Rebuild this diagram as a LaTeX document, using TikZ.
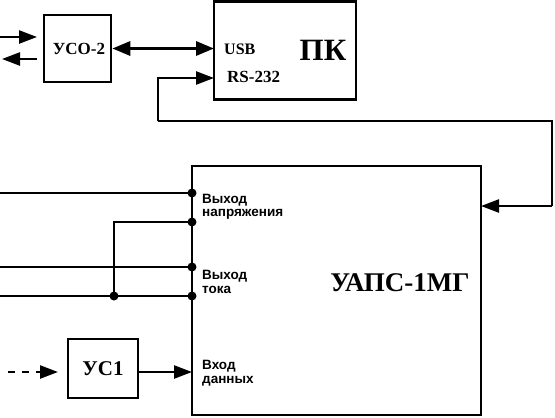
\documentclass[tikz,border=0pt]{standalone}
\usepackage{fontspec}
\setmainfont{Liberation Serif}
\newfontfamily\lsans{Liberation Sans}
\usetikzlibrary{arrows.meta}
\begin{document}
\begin{tikzpicture}[x=1pt,y=-1pt,
  box/.style={draw, line width=2.6pt, inner sep=0pt},
  wire/.style={line width=2.4pt},
  thinwire/.style={line width=1.6pt},
  tipr/.style={-{Triangle[length=18pt,width=13pt]}},
  tipb/.style={{Triangle[length=18pt,width=14pt]}-{Triangle[length=18pt,width=14pt]}},
  dot/.style={circle, fill, inner sep=0pt, minimum size=9pt},
  port/.style={font=\lsans\bfseries\fontsize{13.5}{13.5}\selectfont, align=left, anchor=west, inner sep=0pt},
  bold/.style={font=\bfseries\fontsize{#1}{#1}\selectfont, inner sep=0pt},
]
\useasboundingbox (0,0) rectangle (555,418);
% boxes
\node[box, minimum width=67pt, minimum height=67pt] (uso) at (77.5,48.5) {};
\node[box, minimum width=142pt, minimum height=98pt] (pk) at (285,50.5) {};
\node[box, minimum width=289pt, minimum height=249pt] (uaps) at (336.5,290.5) {};
\node[box, minimum width=70pt, minimum height=59pt] (us1) at (103,368.5) {};
% box labels
\node[bold=17] (tuso) at (79,49) {УСО-2};
\node[bold=31] (tpk) at (323,50) {ПК};
\node[bold=16, anchor=west] (tusb) at (224,49) {USB};
\node[bold=17, anchor=west] (trs) at (227,77) {RS-232};
\node[bold=27] (tuaps) at (400,283) {УАПС-1МГ};
\node[bold=21] (tus1) at (103,369) {УС1};
% port labels
\node[port] (pv) at (202,207) {Выход\\напряжения};
\node[port] (pt) at (202,282) {Выход\\тока};
\node[port] (pd) at (202,373) {Вход\\данных};
% coordinates
\coordinate (in1s) at (0,37);
\coordinate (in1e) at (37,37);
\coordinate (out1s) at (37,59);
\coordinate (out1e) at (2,59);
\coordinate (usbp) at (214,48.5);
\coordinate (rsp) at (214,78);
\coordinate (fb1) at (158,78);
\coordinate (fb2) at (158,121);
\coordinate (fb3) at (552,121);
\coordinate (fb4) at (552,206);
\coordinate (fbin) at (481,206);
\coordinate (p1) at (192,193);
\coordinate (p2) at (192,222);
\coordinate (p3) at (192,267);
\coordinate (p4) at (192,296);
\coordinate (e1) at (0,193);
\coordinate (e3) at (0,267);
\coordinate (e4) at (0,296);
\coordinate (jx) at (114,222);
\coordinate (ds) at (8,372);
\coordinate (de) at (58,372);
\coordinate (us1o) at (138,372);
\coordinate (din) at (192,372);
% connectors
\draw[wire, tipr] (in1s) -- (in1e);
\draw[wire, tipr] (out1s) -- (out1e);
\draw[wire, line width=3.2pt, tipb] (uso.east) -- (usbp);
\draw[wire, tipr] (fb2) -- (fb1) -- (rsp);
\draw[wire] (fb2) -- (fb3) -- (fb4);
\draw[wire, tipr] (fb4) -- (fbin);
\draw[wire] (e1) -- (p1);
\draw[wire] (e3) -- (p3);
\draw[wire] (e4) -- (p4);
\draw[thinwire] (p2) -- (jx) -- (jx |- p4);
\node[dot] (d1) at (p1) {};
\node[dot] (d2) at (p2) {};
\node[dot] (d3) at (p3) {};
\node[dot] (d4) at (p4) {};
\node[dot] (dj) at (jx |- p4) {};
\draw[wire, dash pattern=on 7pt off 7pt, tipr] (ds) -- (de);
\draw[wire, tipr] (us1o) -- (din);
\end{tikzpicture}
\end{document}
